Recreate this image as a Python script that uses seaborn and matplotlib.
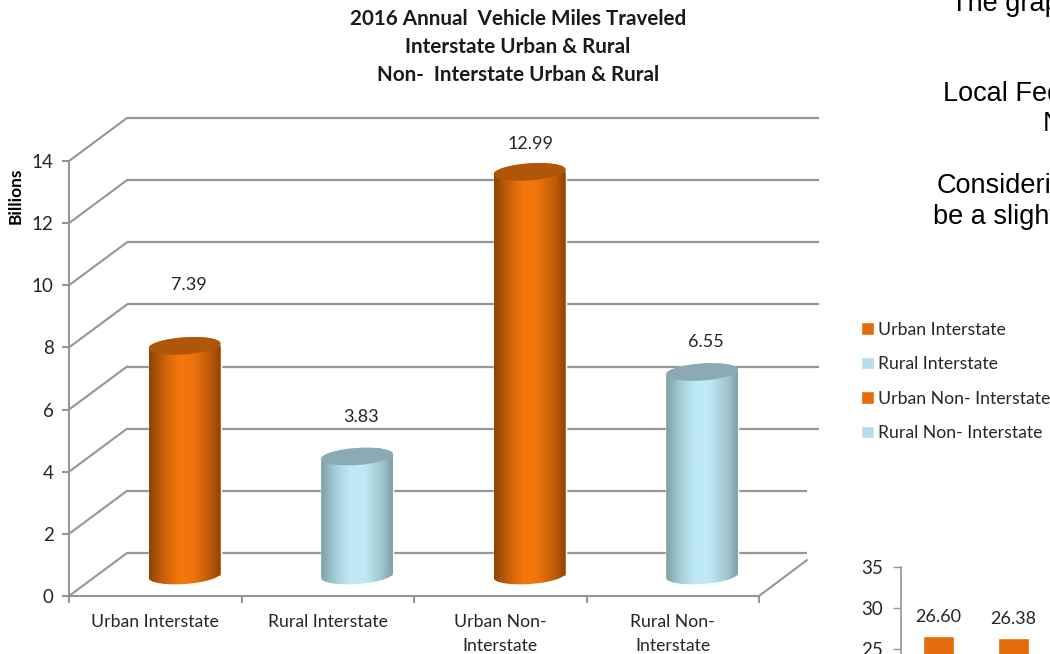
import numpy as np
import pandas as pd
import matplotlib
matplotlib.use('Agg')
import matplotlib.pyplot as plt
import seaborn as sns
from matplotlib.colors import LinearSegmentedColormap
from matplotlib.patches import Ellipse
from matplotlib.path import Path
from matplotlib.transforms import Affine2D, IdentityTransform

# main chart
series_names = ['Urban Interstate', 'Rural Interstate', 'Urban Non- Interstate', 'Rural Non- Interstate']
tick_names = ['Urban Interstate', 'Rural Interstate', 'Urban Non-\nInterstate', 'Rural Non-\nInterstate']
vmt_billions = [7.39, 3.83, 12.99, 6.55]
y_ticks = [0, 2, 4, 6, 8, 10, 12, 14]

# clipped chart in the lower right corner
corner_names = ['a', 'b']
corner_values = [26.60, 26.38]
corner_ticks = [25, 30, 35]

W, H = 1050, 654
ORANGE = '#E46C0A'
BLUE = '#B7DEE8'
GREY = '#969696'
TEXT = '#262626'
palette = dict(zip(series_names, [ORANGE, BLUE, ORANGE, BLUE]))

sns.set_theme(style='white')
plt.rcParams['font.family'] = ['Lato', 'DejaVu Sans']

fig = plt.figure(figsize=(W / 100, H / 100), dpi=100)
fig.patch.set_facecolor('white')


def px_axes(left, top, right, bottom):
    return fig.add_axes([left / W, 1 - bottom / H, (right - left) / W, (bottom - top) / H])


ax = px_axes(69, 161, 759, 596)
ax.patch.set_alpha(0)

df = pd.DataFrame({'name': series_names, 'value': vmt_billions})
sns.barplot(data=df, x='name', y='value', hue='name', hue_order=series_names, palette=palette,
            dodge=False, width=0.417, saturation=1, legend=True, ax=ax, zorder=3)
handles, labels = ax.get_legend_handles_labels()

ax.set_xlim(-0.5, 3.5)
ax.set_ylim(0, 14)

# depth of the 3D box, in pixels
back_tf = ax.transData + Affine2D().translate(58, 43)
mid_tf = ax.transData + Affine2D().translate(29.3, 20.5)

# back wall lines and the diagonals joining them to the front axis
ax.hlines(y_ticks, -0.5, [3.442, 3.442, 3.512, 3.512, 3.512, 3.512, 3.512, 3.512], colors=GREY, lw=1.6,
          transform=back_tf, clip_on=False, zorder=1)
for t in y_ticks:
    px, py = ax.transData.transform((-0.5, t))
    ax.plot([px, px + 58], [py, py + 43], color=GREY, lw=1.5, transform=IdentityTransform(), clip_on=False, zorder=1)
px, py = ax.transData.transform((3.5, 0))
ax.plot([px, px + 48], [py, py + 36], color=GREY, lw=1.5, transform=IdentityTransform(), clip_on=False, zorder=1)

ramp_orange = LinearSegmentedColormap.from_list('o', [(0, '#8C4604'), (0.2, '#C8600A'), (0.42, '#F4770B'), (0.6, '#F0740B'), (0.85, '#BE5A08'), (1, '#8A4505')])
ramp_blue = LinearSegmentedColormap.from_list('b', [(0, '#7E9FA8'), (0.2, '#A5CDD7'), (0.4, '#BEEAF5'), (0.6, '#BEE9F4'), (0.85, '#A0C6CF'), (1, '#7D9EA6')])
ramps = [ramp_orange, ramp_blue, ramp_orange, ramp_blue]
cap_colors = ['#B0560A', '#8BAAB3', '#B0560A', '#8BAAB3']
label_gap = [61, 39, 28, 30]
label_shift = [4.5, 4, 1, 3.5]
shade = np.linspace(0, 1, 256).reshape(1, -1)
tilt = np.radians(4)


def rim(center, half_w, half_h, start, stop):
    t = np.linspace(start, stop, 60)
    x, y = half_w * np.cos(t), half_h * np.sin(t)
    return np.column_stack([center[0] + x * np.cos(tilt) - y * np.sin(tilt),
                            center[1] + x * np.sin(tilt) + y * np.cos(tilt)])


for i, box in enumerate(ax.containers):
    bar = box[0]
    bar.set_transform(mid_tf)
    x0, w, h = bar.get_x(), bar.get_width(), bar.get_height()
    low = np.array(mid_tf.transform((x0 + w / 2, 0)))
    top = np.array(mid_tf.transform((x0 + w / 2, h)))
    half_w = (mid_tf.transform((x0 + w, 0))[0] - low[0])

    im = ax.imshow(shade, cmap=ramps[i], aspect='auto', extent=(x0, x0 + w, -1, h + 1),
                   transform=mid_tf, interpolation='bilinear', zorder=4)
    outline = np.vstack([rim(low, half_w, 8.5, np.pi, 2 * np.pi), rim(top, half_w, 8.5, 0, np.pi)])
    im.set_clip_path(Path(np.vstack([outline, outline[:1]])), IdentityTransform())

    ax.add_patch(Ellipse(top, 2 * half_w, 17, angle=4, facecolor=cap_colors[i], edgecolor='none',
                         transform=IdentityTransform(), clip_on=False, zorder=5))
    ax.text(top[0] + label_shift[i], top[1] + label_gap[i], f'{vmt_billions[i]:.2f}', ha='center', va='center',
            fontsize=13, color=TEXT, transform=IdentityTransform(), clip_on=False, zorder=6)

ax.set_xlim(-0.5, 3.5)
ax.set_ylim(0, 14)

sns.despine(ax=ax, top=True, right=True)
for side in ['left', 'bottom']:
    ax.spines[side].set_color(GREY)
    ax.spines[side].set_linewidth(1.5)
ax.set_yticks(y_ticks, [str(t) for t in y_ticks], fontsize=13.5, color=TEXT)
ax.set_xticks([-0.5, 0.5, 1.5, 2.5, 3.5], [''] * 5)
ax.set_xticks([0, 1, 2, 3], tick_names, minor=True, fontsize=12.7, color=TEXT, linespacing=1.63)
ax.tick_params(axis='y', length=5, width=1.5, color=GREY, left=True, pad=6)
ax.tick_params(axis='x', which='major', length=5, width=1.5, color=GREY, bottom=True)
ax.tick_params(axis='x', which='minor', length=0, pad=13)
ax.set_xlabel('')
ax.set_ylabel('Billions', fontsize=12.5, fontweight='bold', color='black')
ax.yaxis.set_label_coords((24 - 69) / 690, (596 - 196) / 435)

fig.text(518 / W, 1 - 47 / H, '2016 Annual  Vehicle Miles Traveled\nInterstate Urban & Rural\nNon-  Interstate Urban & Rural',
         ha='center', va='center', ma='center', fontsize=14.9, fontweight='bold', color='#1a1a1a', linespacing=1.52)

leg = ax.legend(handles, labels, loc='upper left', bbox_to_anchor=(856 / W, 1 - 316.5 / H), bbox_transform=fig.transFigure,
                frameon=False, fontsize=12.7, handlelength=0.72, handleheight=0.72, handletextpad=0.2,
                labelspacing=1.05, borderaxespad=0, borderpad=0.3)
for text in leg.get_texts():
    text.set_color(TEXT)

# lower right chart runs off the page
ax2 = px_axes(901, 567, 1051, 854)
ax2.patch.set_alpha(0)
corner_df = pd.DataFrame({'name': corner_names, 'value': corner_values})
sns.barplot(data=corner_df, x='name', y='value', color=ORANGE, saturation=1, width=0.41, ax=ax2)
ax2.set_xlim(-0.5, 1.5)
ax2.set_ylim(0, 35)
ax2.bar_label(ax2.containers[0], fmt='%.2f', padding=8, fontsize=13, color=TEXT)
sns.despine(ax=ax2, top=True, right=True, bottom=True)
ax2.spines['left'].set_color(GREY)
ax2.spines['left'].set_linewidth(1.2)
ax2.set_yticks(corner_ticks, [str(t) for t in corner_ticks], fontsize=13.5, color=TEXT)
ax2.tick_params(axis='y', length=6, width=1, color=GREY, left=True, pad=7)
ax2.set_xticks([])
ax2.set_xlabel('')
ax2.set_ylabel('')

# text box cut off by the page edge
body_font = ['Liberation Sans', 'DejaVu Sans']
for x, y, line in [(951, 4, 'The graph'), (943, 94, 'Local Fed'), (1043, 124, 'N'),
                   (937, 186, 'Considering'), (933, 217, 'be a slight')]:
    fig.text(x / W, 1 - y / H, line, ha='left', va='center', fontsize=19.5, family=body_font, color='black')

fig.savefig('out.png', dpi=100)
